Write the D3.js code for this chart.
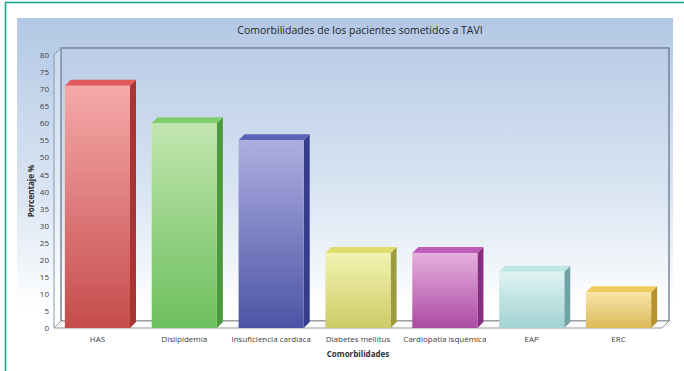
<!DOCTYPE html>
<html>
<head>
<meta charset="utf-8">
<script src="https://cdn.jsdelivr.net/npm/d3@7"></script>
<style>
  html, body { margin: 0; padding: 0; background: #ffffff; }
  svg { display: block; font-family: "Open Sans", "Noto Sans", sans-serif; }
</style>
</head>
<body>
<svg id="chart" width="684" height="371"></svg>
<script>
// Comorbidities of TAVI patients (percentage)
const categories = ["HAS", "Dislipidemia", "Insuficiencia cardiaca", "Diabetes mellitus", "Cardiopatía isquémica", "EAP", "ERC"];
const values = [71, 60, 55, 22, 22, 16.5, 10.5];
const yTicks = [0, 5, 10, 15, 20, 25, 30, 35, 40, 45, 50, 55, 60, 65, 70, 75, 80];
const chartTitle = "Comorbilidades de los pacientes sometidos a TAVI";
const xTitle = "Comorbilidades";
const yTitle = "Porcentaje %";

// front / light / dark / top / side shades for each bar
const palette = [
  { light: "#f6a9a9", dark: "#c64c4c", top: "#e45a5a", side: "#a83434" },
  { light: "#c2e6b0", dark: "#6cbf5c", top: "#7fcf6c", side: "#4c9a3e" },
  { light: "#aeaee0", dark: "#4c54a6", top: "#5c64b8", side: "#363c8c" },
  { light: "#f2f2b2", dark: "#cccc66", top: "#dede6a", side: "#9c9c3c" },
  { light: "#e6b0de", dark: "#ac4aa4", top: "#bf5cb8", side: "#882c80" },
  { light: "#dff3f3", dark: "#a2d2d2", top: "#bfe6e6", side: "#6fa4a6" },
  { light: "#f9e4a8", dark: "#dcba5a", top: "#efca5c", side: "#b8922c" }
];

const svg = d3.select("#chart");
const defs = svg.append("defs");

// outer frame
svg.append("rect")
  .attr("x", 5.5).attr("y", 2.5).attr("width", 700).attr("height", 400)
  .attr("fill", "none").attr("stroke", "#1ea597").attr("stroke-width", 1.6);

// chart area background
const bg = defs.append("linearGradient").attr("id", "bgGrad")
  .attr("x1", 0).attr("y1", 0).attr("x2", 0).attr("y2", 1);
bg.append("stop").attr("offset", "0%").attr("stop-color", "#b3c8e5");
bg.append("stop").attr("offset", "55%").attr("stop-color", "#dce6f3");
bg.append("stop").attr("offset", "88%").attr("stop-color", "#ffffff");
bg.append("stop").attr("offset", "100%").attr("stop-color", "#ffffff");
svg.append("rect")
  .attr("x", 17).attr("y", 18).attr("width", 656).attr("height", 330)
  .attr("fill", "url(#bgGrad)");

// title
svg.append("text")
  .attr("x", 360).attr("y", 34).attr("text-anchor", "middle")
  .attr("font-size", 10.5).attr("fill", "#262626")
  .text(chartTitle);

// plot geometry
const x0 = 54, x1 = 662;
const yBottom = 328, yTop = 55;
const dx = 7, dy = -7;       // wall depth
const bdx = 6, bdy = -6;     // bar depth

const x = d3.scaleBand().domain(categories).range([x0, x1])
  .paddingInner(0.25).paddingOuter(0.125);
const y = d3.scaleLinear().domain([0, 80]).range([yBottom, yTop]);

// back wall
svg.append("rect")
  .attr("x", x0 + dx).attr("y", yTop + dy)
  .attr("width", x1 - x0).attr("height", yBottom - yTop)
  .attr("fill", "none").attr("stroke", "#6f7f96").attr("stroke-width", 1.4);

// side wall
svg.append("path")
  .attr("d", `M${x0},${yTop} L${x0 + dx},${yTop + dy} L${x0 + dx},${yBottom + dy} L${x0},${yBottom} Z`)
  .attr("fill", "rgba(255,255,255,0.25)").attr("stroke", "#8a97aa").attr("stroke-width", 1);

// floor
svg.append("path")
  .attr("d", `M${x0},${yBottom} L${x1},${yBottom} L${x1 + dx},${yBottom + dy} L${x0 + dx},${yBottom + dy} Z`)
  .attr("fill", "#fbfbfb").attr("stroke", "#9a9a9a").attr("stroke-width", 1);

// y axis labels
const yAxis = d3.axisLeft(y).tickValues(yTicks).tickSize(0).tickPadding(5);
const gy = svg.append("g").attr("transform", `translate(${x0 - 0},0)`).call(yAxis);
gy.select(".domain").remove();
gy.selectAll("text").attr("font-size", 8).attr("fill", "#404040")
  .attr("font-family", "\"Open Sans\", sans-serif");

// x axis labels
const xAxis = d3.axisBottom(x).tickSize(0).tickPadding(8);
const gx = svg.append("g").attr("transform", `translate(0,${yBottom})`).call(xAxis);
gx.select(".domain").remove();
gx.selectAll("text").attr("font-size", 8).attr("fill", "#404040")
  .attr("font-family", "\"Open Sans\", sans-serif");

// axis titles
svg.append("text")
  .attr("x", 358).attr("y", 357).attr("text-anchor", "middle")
  .attr("font-size", 8).attr("font-weight", "bold").attr("fill", "#303030")
  .text(xTitle);
svg.append("text")
  .attr("transform", "translate(34,191) rotate(-90)")
  .attr("text-anchor", "middle")
  .attr("font-size", 8).attr("font-weight", "bold").attr("fill", "#303030")
  .text(yTitle);

// bar gradients
palette.forEach((c, i) => {
  const g = defs.append("linearGradient").attr("id", "barGrad" + i)
    .attr("x1", 0).attr("y1", 0).attr("x2", 0).attr("y2", 1);
  g.append("stop").attr("offset", "0%").attr("stop-color", c.light);
  g.append("stop").attr("offset", "100%").attr("stop-color", c.dark);
});

// bars
const bars = svg.append("g").selectAll("g.bar")
  .data(categories.map((k, i) => ({ k, v: values[i], i })))
  .join("g").attr("class", "bar");

bars.append("path")
  .attr("d", d => {
    const xl = x(d.k) + x.bandwidth(), yt = y(d.v), yb = y(0);
    return `M${xl},${yt} L${xl + bdx},${yt + bdy} L${xl + bdx},${yb + bdy} L${xl},${yb} Z`;
  })
  .attr("fill", d => palette[d.i].side);

bars.append("path")
  .attr("d", d => {
    const xl = x(d.k), xr = xl + x.bandwidth(), yt = y(d.v);
    return `M${xl},${yt} L${xl + bdx},${yt + bdy} L${xr + bdx},${yt + bdy} L${xr},${yt} Z`;
  })
  .attr("fill", d => palette[d.i].top);

bars.append("rect")
  .attr("x", d => x(d.k)).attr("y", d => y(d.v))
  .attr("width", x.bandwidth()).attr("height", d => y(0) - y(d.v))
  .attr("fill", d => `url(#barGrad${d.i})`);
</script>
</body>
</html>
